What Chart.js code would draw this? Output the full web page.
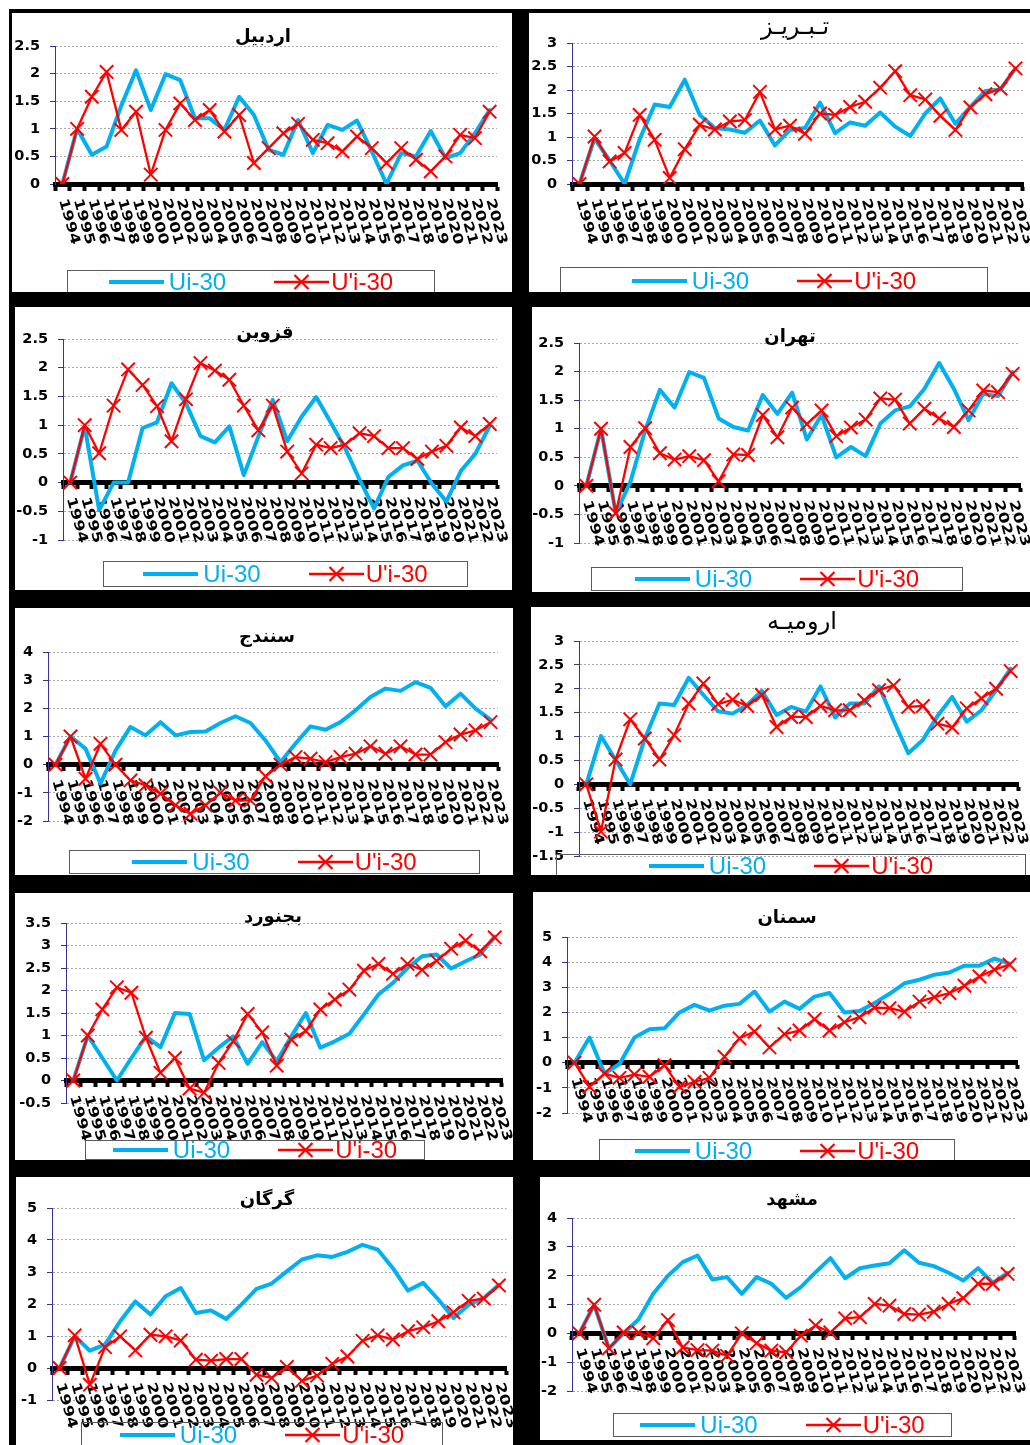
<!DOCTYPE html>
<html>
<head>
<meta charset="utf-8">
<script src="https://cdn.jsdelivr.net/npm/chart.js@4.4.1/dist/chart.umd.min.js"></script>
<style>
html, body { margin: 0; padding: 0; background: #fff; }
body { width: 1030px; height: 1445px; position: relative; overflow: hidden; }
#grid { position: absolute; left: 9px; top: 9px; width: 1040px; height: 1450px; background: #000; }
.cell { position: absolute; background: #fff; overflow: hidden; }
.cell canvas { position: absolute; left: 0; top: 0; }
.lg { position: absolute; box-sizing: border-box; border: 1px solid #5a5a5a; display: flex; align-items: center; justify-content: center;
      font: 24px "Liberation Sans", Arial, sans-serif; white-space: nowrap; }
.it { display: flex; align-items: center; }
</style>
</head>
<body>
<div id="grid"></div>
<script>
const years = ['1994', '1995', '1996', '1997', '1998', '1999', '2000', '2001', '2002', '2003',
               '2004', '2005', '2006', '2007', '2008', '2009', '2010', '2011', '2012', '2013',
               '2014', '2015', '2016', '2017', '2018', '2019', '2020', '2021', '2022', '2023'];
const seriesNames = ['Ui-30', "U'i-30"];

const ardabilUi  = [0, 1.0, 0.53, 0.68, 1.42, 2.06, 1.34, 1.99, 1.88, 1.19, 1.19, 0.98, 1.58, 1.25, 0.62, 0.53, 1.16, 0.56, 1.07, 0.98, 1.15, 0.59, 0.0, 0.56, 0.50, 0.96, 0.47, 0.56, 0.92, 1.34];
const ardabilUpi = [0, 1.0, 1.58, 2.03, 0.98, 1.31, 0.17, 0.98, 1.46, 1.16, 1.34, 0.95, 1.25, 0.38, 0.65, 0.92, 1.09, 0.80, 0.74, 0.59, 0.86, 0.65, 0.38, 0.65, 0.44, 0.23, 0.50, 0.89, 0.83, 1.31];
const tabrizUi   = [0, 0.97, 0.5, 0, 0.95, 1.69, 1.64, 2.22, 1.47, 1.19, 1.16, 1.09, 1.35, 0.82, 1.15, 1.19, 1.73, 1.08, 1.31, 1.24, 1.52, 1.22, 1.02, 1.50, 1.82, 1.28, 1.64, 1.98, 2.01, 2.46];
const tabrizUpi  = [0, 1.01, 0.48, 0.66, 1.47, 0.94, 0.13, 0.74, 1.26, 1.16, 1.33, 1.36, 1.96, 1.16, 1.24, 1.07, 1.50, 1.47, 1.64, 1.75, 2.05, 2.40, 1.89, 1.80, 1.45, 1.15, 1.63, 1.91, 2.03, 2.46];
const qazvinUi   = [0, 0.98, -0.48, 0, 0, 0.95, 1.05, 1.73, 1.38, 0.81, 0.70, 0.98, 0.13, 0.8, 1.44, 0.72, 1.15, 1.49, 1.05, 0.6, 0.05, -0.45, 0.10, 0.30, 0.38, -0.02, -0.33, 0.20, 0.50, 0.99];
const qazvinUpi  = [0, 1.0, 0.51, 1.34, 1.97, 1.70, 1.33, 0.72, 1.45, 2.08, 1.95, 1.79, 1.34, 0.91, 1.34, 0.54, 0.16, 0.66, 0.60, 0.66, 0.86, 0.81, 0.60, 0.60, 0.41, 0.54, 0.64, 0.96, 0.81, 1.02];
const tehranUi   = [0, 1.0, -0.48, 0.07, 0.97, 1.68, 1.37, 1.99, 1.89, 1.18, 1.03, 0.97, 1.59, 1.26, 1.63, 0.81, 1.24, 0.50, 0.68, 0.52, 1.09, 1.32, 1.39, 1.70, 2.15, 1.70, 1.15, 1.61, 1.57, 1.99];
const tehranUpi  = [0, 1.0, -0.48, 0.68, 1.01, 0.57, 0.46, 0.52, 0.45, 0.08, 0.55, 0.54, 1.24, 0.85, 1.37, 1.08, 1.32, 0.87, 1.02, 1.16, 1.53, 1.51, 1.09, 1.35, 1.18, 1.03, 1.32, 1.67, 1.64, 1.96];
const sanandajUi  = [0, 1.0, 0.57, -0.67, 0.5, 1.34, 1.04, 1.51, 1.04, 1.16, 1.18, 1.48, 1.72, 1.48, 0.86, 0.09, 0.75, 1.36, 1.24, 1.51, 1.93, 2.40, 2.70, 2.62, 2.93, 2.73, 2.07, 2.52, 1.99, 1.60];
const sanandajUpi = [0, 1.0, -0.5, 0.74, 0, -0.56, -0.73, -1.03, -1.44, -1.74, -1.44, -1.0, -1.27, -1.27, -0.41, 0, 0.27, 0.21, 0.09, 0.27, 0.39, 0.65, 0.39, 0.65, 0.36, 0.36, 0.80, 1.07, 1.22, 1.51];
const urmiaUi    = [0, 1.01, 0.51, 0, 0.96, 1.69, 1.66, 2.23, 1.87, 1.53, 1.48, 1.66, 1.96, 1.45, 1.62, 1.52, 2.05, 1.40, 1.69, 1.69, 2.05, 1.34, 0.65, 0.93, 1.43, 1.83, 1.31, 1.55, 1.97, 2.42];
const urmiaUpi   = [0, -0.99, 0.52, 1.36, 0.96, 0.52, 1.03, 1.69, 2.11, 1.68, 1.77, 1.64, 1.87, 1.20, 1.41, 1.41, 1.64, 1.55, 1.55, 1.76, 1.97, 2.07, 1.62, 1.64, 1.27, 1.19, 1.59, 1.80, 2.00, 2.37];
const bojnurdUi  = [0, 1.0, 0.5, 0, 0.5, 0.98, 0.74, 1.5, 1.48, 0.45, 0.73, 0.98, 0.37, 0.85, 0.43, 0.98, 1.50, 0.73, 0.87, 1.04, 1.47, 1.91, 2.17, 2.50, 2.76, 2.80, 2.49, 2.65, 2.80, 3.20];
const bojnurdUpi = [0, 1.0, 1.58, 2.07, 1.95, 0.95, 0.17, 0.5, -0.18, -0.27, 0.39, 0.87, 1.48, 1.07, 0.33, 0.91, 1.10, 1.58, 1.80, 2.02, 2.44, 2.59, 2.37, 2.59, 2.46, 2.66, 2.93, 3.11, 2.87, 3.18];
const semnanUi   = [0, 1.0, -0.43, -0.05, 1.0, 1.33, 1.37, 2.0, 2.30, 2.07, 2.27, 2.34, 2.83, 2.03, 2.43, 2.14, 2.63, 2.77, 2.0, 2.06, 2.37, 2.74, 3.16, 3.30, 3.50, 3.59, 3.86, 3.86, 4.14, 3.94];
const semnanUpi  = [0, -0.96, -0.43, -0.6, -0.47, -0.56, -0.1, -0.96, -0.76, -0.6, 0.24, 0.97, 1.24, 0.61, 1.14, 1.28, 1.73, 1.28, 1.61, 1.81, 2.19, 2.17, 2.03, 2.43, 2.61, 2.77, 3.06, 3.43, 3.70, 3.90];
const gorganUi   = [0, 0.99, 0.54, 0.73, 1.46, 2.08, 1.67, 2.24, 2.50, 1.72, 1.80, 1.53, 1.98, 2.47, 2.64, 3.02, 3.39, 3.52, 3.47, 3.63, 3.85, 3.70, 3.12, 2.42, 2.66, 2.14, 1.56, 1.98, 2.19, 2.60];
const gorganUpi  = [0, 1.02, -0.52, 0.65, 0.99, 0.55, 1.04, 0.99, 0.86, 0.26, 0.23, 0.28, 0.28, -0.21, -0.31, 0.03, -0.40, -0.24, 0.13, 0.36, 0.85, 1.02, 0.89, 1.15, 1.27, 1.46, 1.74, 2.10, 2.17, 2.58];
const mashhadUi  = [0, 0.99, -0.52, 0, 0.48, 1.37, 2.0, 2.47, 2.70, 1.87, 1.95, 1.37, 1.95, 1.72, 1.23, 1.60, 2.12, 2.61, 1.91, 2.26, 2.35, 2.43, 2.88, 2.45, 2.33, 2.10, 1.83, 2.26, 1.75, 2.10];
const mashhadUpi = [0, 0.99, -0.52, 0.03, 0.03, -0.17, 0.46, -0.49, -0.58, -0.60, -0.78, 0, -0.34, -0.60, -0.66, -0.08, 0.27, 0.03, 0.52, 0.56, 1.02, 0.96, 0.67, 0.65, 0.75, 1.02, 1.22, 1.72, 1.72, 2.06];

const CYAN = '#00B0F0';
const RED = '#FF0000';

// page geometry of each panel: white cell, plot area (L,T,R,B), title centre, legend box (x1,y1,x2,textCentreY)
const panels = [
  { title: 'اردبیل', bold: true, ui: ardabilUi, upi: ardabilUpi, yMin: 0, yMax: 2.5, step: 0.5,
    cell: [12, 13, 512, 292], plot: [55, 46, 497, 184], titleAt: [263, 37], legend: [67, 270, 435, 282] },
  { title: 'تـبـريـز', bold: false, ui: tabrizUi, upi: tabrizUpi, yMin: 0, yMax: 3, step: 0.5,
    cell: [529, 13, 1030, 292], plot: [572, 43, 1023, 184], titleAt: [795, 28], legend: [560, 267, 988, 281] },
  { title: 'قزوین', bold: true, ui: qazvinUi, upi: qazvinUpi, yMin: -1, yMax: 2.5, step: 0.5,
    cell: [15, 307, 512, 590], plot: [63, 339, 497, 540], titleAt: [265, 333], legend: [103, 561, 468, 574] },
  { title: 'تهران', bold: true, ui: tehranUi, upi: tehranUpi, yMin: -1, yMax: 2.5, step: 0.5,
    cell: [532, 307, 1030, 592], plot: [579, 343, 1020, 543], titleAt: [790, 337], legend: [591, 567, 963, 579] },
  { title: 'سنندج', bold: true, ui: sanandajUi, upi: sanandajUpi, yMin: -2, yMax: 4, step: 1,
    cell: [15, 608, 513, 875], plot: [48, 652, 498, 821], titleAt: [267, 637], legend: [69, 850, 480, 862] },
  { title: 'ارومیـه', bold: false, ui: urmiaUi, upi: urmiaUpi, yMin: -1.5, yMax: 3, step: 0.5,
    cell: [531, 607, 1030, 875], plot: [579, 641, 1018, 856], titleAt: [802, 623], legend: [556, 854, 1026, 866] },
  { title: 'بجنورد', bold: true, ui: bojnurdUi, upi: bojnurdUpi, yMin: -0.5, yMax: 3.5, step: 0.5,
    cell: [15, 893, 513, 1160], plot: [66, 923, 502, 1103], titleAt: [273, 917], legend: [85, 1140, 425, 1150] },
  { title: 'سمنان', bold: true, ui: semnanUi, upi: semnanUpi, yMin: -2, yMax: 5, step: 1,
    cell: [533, 892, 1030, 1160], plot: [567, 937, 1017, 1113], titleAt: [787, 918], legend: [599, 1139, 955, 1151] },
  { title: 'گرگان', bold: true, ui: gorganUi, upi: gorganUpi, yMin: -1, yMax: 5, step: 1,
    cell: [16, 1177, 513, 1445], plot: [52, 1208, 507, 1400], titleAt: [267, 1200], legend: [81, 1422, 443, 1435] },
  { title: 'مشهد', bold: true, ui: mashhadUi, upi: mashhadUpi, yMin: -2, yMax: 4, step: 1,
    cell: [540, 1177, 1030, 1440], plot: [572, 1218, 1015, 1391], titleAt: [792, 1200], legend: [613, 1413, 952, 1425] }
];

// year labels hang under the zero line, glyphs turned clockwise like the Excel original
const yearLabels = {
  id: 'yearLabels',
  beforeDatasetsDraw(chart) {
    const { ctx, scales: { x, y } } = chart;
    const y0 = y.getPixelForValue(0);
    ctx.save();
    ctx.font = 'bold 15px "DejaVu Sans", sans-serif';
    ctx.fillStyle = '#000';
    ctx.textAlign = 'left';
    ctx.textBaseline = 'middle';
    chart.data.labels.forEach((lab, i) => {
      ctx.save();
      ctx.translate(x.getPixelForValue(i), y0 + 15);
      ctx.rotate(74 * Math.PI / 180);
      ctx.scale(1.13, 0.9);
      ctx.fillText(lab, 0, 0);
      ctx.restore();
    });
    ctx.restore();
  }
};

function legendHtml() {
  const cyanSvg = '<svg width="55" height="20"><line x1="0" y1="10" x2="55" y2="10" stroke="' + CYAN + '" stroke-width="4"/></svg>';
  const redSvg = '<svg width="55" height="20"><line x1="0" y1="10" x2="55" y2="10" stroke="' + RED + '" stroke-width="2.5"/>' +
    '<path d="M20.5 3 L34.5 17 M34.5 3 L20.5 17" stroke="' + RED + '" stroke-width="2.2" fill="none"/></svg>';
  return '<span class="it">' + cyanSvg + '<span style="margin-left:5px;color:' + CYAN + '">' + seriesNames[0] + '</span></span>' +
         '<span class="it" style="margin-left:48px">' + redSvg + '<span style="margin-left:2px;color:' + RED + '">' + seriesNames[1] + '</span></span>';
}

panels.forEach(p => {
  const [x0, y0, x1, y1] = p.cell;
  const cw = x1 - x0, ch = y1 - y0;

  // turn the measured page positions into canvas size and layout paddings
  const tSize = p.bold ? 18 : 24;
  const Lr = p.plot[0] - x0, Tr = p.plot[1] - y0, Rr = p.plot[2] - x0, Br = p.plot[3] - y0;
  const tx = p.titleAt[0] - x0, ty = p.titleAt[1] - y0;
  const wRight = Math.max(0, 2 * tx - Rr);      // spacer on the right so the title sits where it should
  const canvasW = Math.max(cw, Rr + wRight);
  const padR = canvasW - Rr - wRight;
  const padT = ty - tSize / 2;
  const padTB = Tr - ty - tSize / 2;
  const padB = ch - Br;

  const cell = document.createElement('div');
  cell.className = 'cell';
  cell.style.left = x0 + 'px'; cell.style.top = y0 + 'px';
  cell.style.width = cw + 'px'; cell.style.height = ch + 'px';
  const canvas = document.createElement('canvas');
  canvas.width = canvasW; canvas.height = ch;
  cell.appendChild(canvas);

  const [lx1, ly1, lx2, lyc] = p.legend;
  const lg = document.createElement('div');
  lg.className = 'lg';
  lg.style.left = (lx1 - x0) + 'px'; lg.style.top = (ly1 - y0) + 'px';
  lg.style.width = (lx2 - lx1) + 'px'; lg.style.height = (2 * (lyc - ly1)) + 'px';
  lg.innerHTML = legendHtml();
  cell.appendChild(lg);
  document.body.appendChild(cell);

  new Chart(canvas, {
    type: 'line',
    data: {
      labels: years,
      datasets: [
        { label: seriesNames[1], data: p.upi, borderColor: RED, backgroundColor: RED, borderWidth: 2.3,
          pointStyle: 'crossRot', pointRadius: 9.5, pointBorderWidth: 2, pointBorderColor: RED,
          borderJoinStyle: 'round', tension: 0, order: 0 },
        { label: seriesNames[0], data: p.ui, borderColor: CYAN, backgroundColor: CYAN, borderWidth: 4,
          pointRadius: 0, borderJoinStyle: 'round', borderCapStyle: 'round', tension: 0, order: 1 }
      ]
    },
    options: {
      responsive: false,
      animation: false,
      events: [],
      layout: { padding: { left: 0, right: padR, top: 0, bottom: padB } },
      plugins: {
        legend: { display: false },
        tooltip: { enabled: false },
        title: {
          display: true, text: p.title, color: '#000',
          font: { family: '"DejaVu Sans", sans-serif', size: tSize, weight: p.bold ? 'bold' : 'normal', lineHeight: 1 },
          padding: { top: padT, bottom: padTB }
        }
      },
      scales: {
        x: {
          position: { y: 0 },
          offset: true,
          ticks: { display: false },
          grid: { offset: true, drawOnChartArea: false, drawTicks: true, tickLength: 4, tickWidth: 4, tickColor: '#000' },
          border: { color: '#000', width: 5 }
        },
        y: {
          min: p.yMin, max: p.yMax,
          afterFit(scale) { scale.width = Lr; },
          ticks: {
            stepSize: p.step, color: '#000', padding: 10,
            font: { family: '"DejaVu Sans", sans-serif', size: 14.5, weight: 'bold' },
            callback: v => String(Number(v.toFixed(2)))
          },
          grid: { color: '#a8a8a8', lineWidth: 1, tickColor: '#333399', tickLength: 5, tickBorderDash: [], borderDash: [2, 2] },
          border: { color: '#333399', width: 1, dash: [2, 2] }
        },
        spacer: {
          axis: 'y', position: 'right', display: true,
          afterFit(scale) { scale.width = wRight; },
          ticks: { display: false },
          grid: { display: false, drawTicks: false },
          border: { display: false }
        }
      }
    },
    plugins: [yearLabels]
  });
});
</script>
</body>
</html>
